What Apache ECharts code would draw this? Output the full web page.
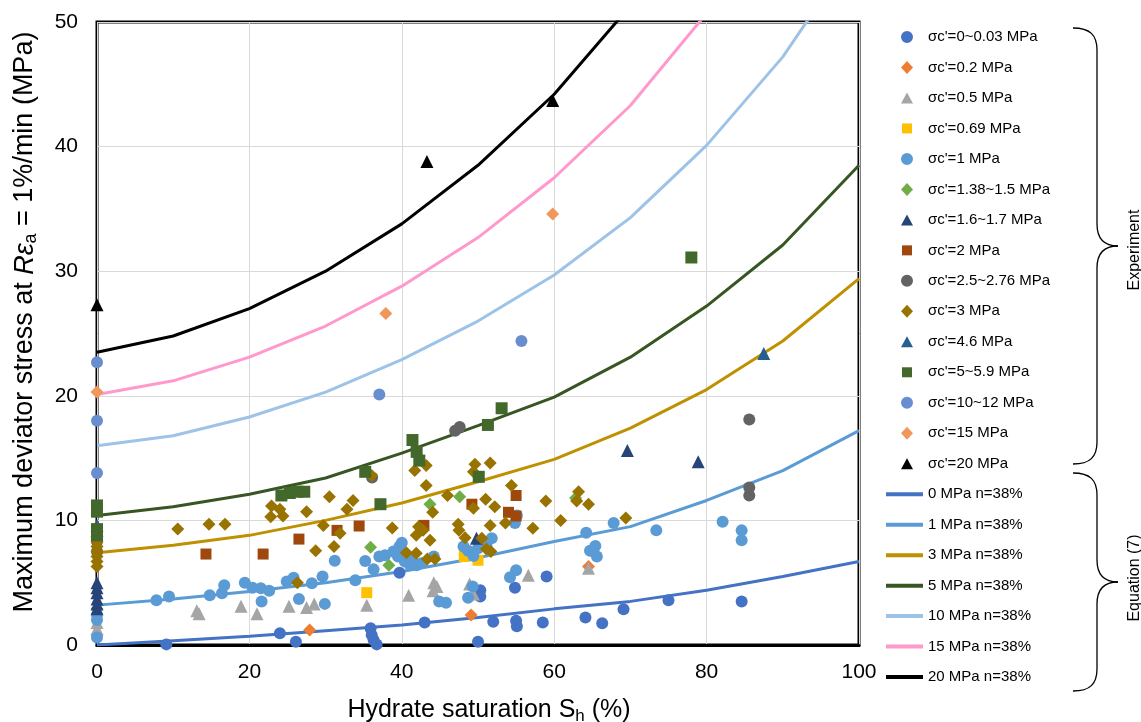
<!DOCTYPE html>
<html>
<head>
<meta charset="utf-8">
<script src="https://cdn.jsdelivr.net/npm/echarts@6/dist/echarts.min.js"></script>
<style>
  html, body { margin: 0; padding: 0; background: #fff; }
  #chart { width: 1141px; height: 722px; }
</style>
</head>
<body>
<div id="chart"></div>
<script>
const FONT = "'Liberation Sans', Arial, sans-serif";

// ---- Axis ticks ----
const xTicks = { min: 0, max: 100, interval: 20 };
const yTicks = { min: 0, max: 50, interval: 10 };

// ---- Equation (7) curves: hydrate saturation (%) vs. max deviator stress (MPa) ----
const curveSh = [0, 10, 20, 30, 40, 50, 60, 70, 80, 90, 100];
const eq0MPa  = [0, 0.35, 0.7, 1.15, 1.6, 2.2, 2.9, 3.5, 4.4, 5.5, 6.7];
const eq1MPa  = [3.2, 3.7, 4.3, 5.0, 5.9, 7.0, 8.3, 9.5, 11.6, 14.0, 17.2];
const eq3MPa  = [7.4, 8.0, 8.8, 10.0, 11.4, 13.1, 14.9, 17.4, 20.5, 24.4, 29.4];
const eq5MPa  = [10.4, 11.1, 12.1, 13.4, 15.4, 17.6, 19.9, 23.1, 27.2, 32.1, 38.5];
const eq10MPa = [16.0, 16.8, 18.3, 20.3, 22.9, 26.0, 29.7, 34.3, 40.1, 47.2, 56.2];
const eq15MPa = [20.1, 21.2, 23.1, 25.6, 28.8, 32.7, 37.5, 43.3, 50.7];
const eq20MPa = [23.5, 24.8, 27.0, 30.0, 33.8, 38.5, 44.2, 51.3];

// ---- Experimental data: [Sh (%), q_max (MPa)] ----
const exp0to003 = [[9.1,0.05],[24.0,0.94],[26.1,0.27],[35.9,1.34],[36.05,0.8],[36.3,0.4],[36.7,0.05],
  [39.7,5.8],[43.0,1.8],[50.0,0.27],[50.3,4.4],[50.3,3.9],[52.0,1.87],[55.0,1.95],[55.1,1.5],
  [54.85,4.6],[58.5,1.8],[59.0,5.5],[64.1,2.2],[66.3,1.75],[69.1,2.86],[75.0,3.6],[84.6,3.5]];
const exp02 = [[0,0.8],[27.9,1.2],[49.1,2.4],[64.5,6.3]];
const exp05 = [[0,1.3],[0,1.8],[13.1,2.75],[13.4,2.5],[18.9,3.1],[21.0,2.5],[25.2,3.1],[27.5,3.0],
  [28.5,3.3],[35.4,3.2],[40.9,4.0],[44.2,5.0],[44.6,4.7],[44.1,4.36],[48.9,4.9],[49.4,4.1],
  [56.6,5.6],[64.5,6.15]];
const exp069 = [[35.4,4.2],[48.2,7.1],[50.0,6.8]];
const exp1 = [[0,0.6],[0,2.0],[0,2.4],[7.8,3.6],[9.45,3.9],[14.8,4.0],[16.4,4.15],[16.7,4.8],[19.4,5.0],
  [20.4,4.6],[21.5,4.55],[22.6,4.36],[21.6,3.5],[24.9,5.1],[25.8,5.4],[28.2,4.95],[29.6,5.5],
  [31.2,6.77],[26.5,3.7],[29.9,3.3],[33.9,5.2],[35.2,6.74],[36.3,6.07],[37.05,7.1],[37.8,7.2],
  [38.9,7.5],[39.7,7.9],[40.0,8.2],[39.5,7.1],[40.4,6.7],[41.1,6.4],[41.95,6.4],[41.3,6.96],
  [42.6,6.56],[44.2,7.1],[48.1,7.9],[48.7,7.57],[49.4,7.14],[50.0,7.76],[51.1,8.0],[51.8,8.56],
  [55.1,10.4],[54.85,9.8],[64.2,9.0],[64.7,7.57],[65.4,7.95],[65.6,7.1],[55.0,6.0],[54.2,5.43],
  [49.3,4.7],[48.7,3.8],[44.9,3.5],[45.8,3.4],[67.8,9.8],[73.4,9.2],[82.1,9.9],[84.6,9.2],[84.6,8.4]];
const exp138to15 = [[0,2.9],[35.9,7.84],[38.3,6.4],[43.7,11.3],[47.6,11.9],[62.8,11.8]];
const exp16to17 = [[0,2.9],[0,3.3],[0,3.7],[0,4.2],[0,4.6],[0,5.0],[49.8,8.56],[69.6,15.6],[78.9,14.7]];
const exp2 = [[14.3,7.3],[21.8,7.3],[26.5,8.5],[31.5,9.2],[34.4,9.55],[42.9,9.6],[49.2,11.3],
  [55.0,12.0],[54.0,10.65],[55.0,10.35]];
const exp25to276 = [[0,7.5],[0,8.3],[36.1,13.45],[47.0,17.2],[47.6,17.5],[85.6,18.1],[85.6,12.65],[85.6,12.0]];
const exp3 = [[0,6.3],[0,6.7],[0,7.1],[0,7.5],[0,7.9],[0,8.3],[0,8.7],
  [10.6,9.3],[14.7,9.7],[16.8,9.7],[22.9,11.15],[24.0,10.9],[22.8,10.3],[24.4,10.35],[27.5,10.7],
  [30.5,11.9],[29.7,9.6],[31.9,8.96],[28.7,7.57],[31.1,7.9],[26.3,5.0],
  [36.05,13.6],[41.7,14.0],[43.2,14.4],[43.2,12.8],[49.6,14.5],[49.4,13.9],[51.6,14.6],[54.4,12.8],
  [58.9,11.56],[63.2,12.3],[62.95,11.56],[64.5,11.3],[33.6,11.6],[32.8,10.9],[46.0,12.0],[51.0,11.7],
  [52.2,11.1],[49.4,10.97],[44.05,10.65],[38.75,9.4],[47.4,9.7],[47.5,9.2],[51.6,9.6],[53.6,9.8],
  [57.2,9.36],[60.85,10.0],[42.2,9.5],[41.9,8.8],[42.8,9.2],[43.7,8.4],[48.3,8.6],[50.5,8.56],
  [40.6,7.4],[41.9,7.36],[43.35,6.9],[44.35,6.9],[51.1,7.7],[51.7,7.5],[69.4,10.2]];
const exp46 = [[0,9.6],[87.5,23.4]];
const exp5to59 = [[0,11.2],[0,10.7],[0,9.3],[0,8.8],[24.2,12.0],[25.3,12.2],[26.3,12.3],[27.2,12.3],
  [35.2,13.9],[37.2,11.3],[41.4,16.45],[41.95,15.5],[42.3,14.8],[50.1,13.5],[51.3,17.66],[53.1,19.0],[78.0,31.1]];
const exp10to12 = [[0,22.7],[0,18.0],[0,13.8],[37.05,20.1],[55.7,24.4]];
const exp15 = [[0,20.3],[37.9,26.6],[59.8,34.6]];
const exp20 = [[0,27.3],[43.3,38.8],[59.8,43.7]];

// Legend marker outlines drawn inside a 37x14 cell (the leading moves fix the cell size)
const CELL = 'path://M0,0M37,14';
const legendIcons = {
  circle: CELL + 'M21,1A6,6,0,1,1,20.99,1Z',
  diamond: CELL + 'M21,0.5L27,7L21,13.5L15,7Z',
  triangle: CELL + 'M21,1.5L27,12.5L15,12.5Z',
  rect: CELL + 'M16,2L26,2L26,12L16,12Z'
};

// ---- Series appearance ----
const expGroups = [
  { name: "σc'=0~0.03 MPa",    data: exp0to003,  symbol: 'circle',   size: 12, color: '#4472C4' },
  { name: "σc'=0.2 MPa",       data: exp02,      symbol: 'diamond',  size: 13, color: '#ED7D31' },
  { name: "σc'=0.5 MPa",       data: exp05,      symbol: 'triangle', size: 13, color: '#A5A5A5' },
  { name: "σc'=0.69 MPa",      data: exp069,     symbol: 'rect',     size: 11, color: '#FFC000' },
  { name: "σc'=1 MPa",         data: exp1,       symbol: 'circle',   size: 12, color: '#5B9BD5' },
  { name: "σc'=1.38~1.5 MPa",  data: exp138to15, symbol: 'diamond',  size: 13, color: '#70AD47' },
  { name: "σc'=1.6~1.7 MPa",   data: exp16to17,  symbol: 'triangle', size: 13, color: '#264478' },
  { name: "σc'=2 MPa",         data: exp2,       symbol: 'rect',     size: 11, color: '#9E480E' },
  { name: "σc'=2.5~2.76 MPa",  data: exp25to276, symbol: 'circle',   size: 12, color: '#636363' },
  { name: "σc'=3 MPa",         data: exp3,       symbol: 'diamond',  size: 13, color: '#997300' },
  { name: "σc'=4.6 MPa",       data: exp46,      symbol: 'triangle', size: 13, color: '#255E91' },
  { name: "σc'=5~5.9 MPa",     data: exp5to59,   symbol: 'rect',     size: 12, color: '#43682B' },
  { name: "σc'=10~12 MPa",     data: exp10to12,  symbol: 'circle',   size: 12, color: '#698ED0' },
  { name: "σc'=15 MPa",        data: exp15,      symbol: 'diamond',  size: 13, color: '#F1975A' },
  { name: "σc'=20 MPa",        data: exp20,      symbol: 'triangle', size: 13, color: '#000000' }
];

const eqGroups = [
  { name: '0 MPa n=38%',  values: eq0MPa,  color: '#4472C4' },
  { name: '1 MPa n=38%',  values: eq1MPa,  color: '#5B9BD5' },
  { name: '3 MPa n=38%',  values: eq3MPa,  color: '#BF9000' },
  { name: '5 MPa n=38%',  values: eq5MPa,  color: '#375623' },
  { name: '10 MPa n=38%', values: eq10MPa, color: '#9DC3E6' },
  { name: '15 MPa n=38%', values: eq15MPa, color: '#FF99CC' },
  { name: '20 MPa n=38%', values: eq20MPa, color: '#000000' }
];

const series = [];
eqGroups.forEach(g => {
  series.push({
    type: 'line',
    name: g.name,
    data: g.values.map((v, i) => [curveSh[i], v]),
    symbol: 'none',
    smooth: false,
    clip: true,
    z: 2,
    lineStyle: { color: g.color, width: 3 },
    itemStyle: { color: g.color },
    emphasis: { disabled: true }
  });
});
expGroups.forEach(g => {
  series.push({
    type: 'scatter',
    name: g.name,
    data: g.data,
    symbol: g.symbol,
    symbolSize: g.size,
    clip: false,
    z: 3,
    itemStyle: { color: g.color, opacity: 1 },
    emphasis: { disabled: true }
  });
});

// legend entries: markers for measurements, plain strokes for the equation curves
const legendData = expGroups.map(g => ({ name: g.name, icon: legendIcons[g.symbol] }))
  .concat(eqGroups.map(g => ({
    name: g.name,
    itemStyle: { opacity: 0 },
    lineStyle: { width: 4, color: g.color }
  })));

// Curly brace built from two end bends, a centre point and straight runs
function brace(top, bottom, xEnd, xRun, xTip) {
  const mid = (top + bottom) / 2;
  const st = { fill: 'none', stroke: '#000', lineWidth: 1.3 };
  const r = 22;
  return [
    { type: 'bezierCurve', shape: { x1: xEnd, y1: top, cpx1: xEnd + 17, cpy1: top, cpx2: xRun, cpy2: top + 7, x2: xRun, y2: top + r }, style: st },
    { type: 'line', shape: { x1: xRun, y1: top + r, x2: xRun, y2: mid - r }, style: st },
    { type: 'bezierCurve', shape: { x1: xRun, y1: mid - r, cpx1: xRun, cpy1: mid - 7, cpx2: xRun + 7, cpy2: mid, x2: xTip, y2: mid }, style: st },
    { type: 'bezierCurve', shape: { x1: xTip, y1: mid, cpx1: xRun + 7, cpy1: mid, cpx2: xRun, cpy2: mid + 7, x2: xRun, y2: mid + r }, style: st },
    { type: 'line', shape: { x1: xRun, y1: mid + r, x2: xRun, y2: bottom - r }, style: st },
    { type: 'bezierCurve', shape: { x1: xRun, y1: bottom - r, cpx1: xRun, cpy1: bottom - 7, cpx2: xEnd + 17, cpy2: bottom, x2: xEnd, y2: bottom }, style: st }
  ];
}

const graphics = []
  .concat(brace(28, 464, 1073, 1097, 1118))
  .concat(brace(473, 691, 1073, 1097, 1118))
  .concat([
    { type: 'text', x: 1135, y: 250, rotation: Math.PI / 2,
      style: { text: 'Experiment', font: '16px ' + FONT, fill: '#000', align: 'center', verticalAlign: 'middle' } },
    { type: 'text', x: 1135, y: 578, rotation: Math.PI / 2,
      style: { text: 'Equation (7)', font: '16px ' + FONT, fill: '#000', align: 'center', verticalAlign: 'middle' } },
    { type: 'text', x: 489, y: 710,
      style: {
        text: '{n|Hydrate saturation S}{s|h}{n| (%)}',
        align: 'center', verticalAlign: 'middle', fill: '#000',
        rich: {
          n: { fontSize: 25, fontFamily: FONT, lineHeight: 29, fill: '#000' },
          s: { fontSize: 17, fontFamily: FONT, lineHeight: 17, verticalAlign: 'bottom', fill: '#000' }
        }
      } },
    { type: 'text', x: 25, y: 322, rotation: Math.PI / 2,
      style: {
        text: '{n|Maximum deviator stress at }{i|Rε}{s|a}{n| = 1%/min (MPa)}',
        align: 'center', verticalAlign: 'middle', fill: '#000',
        rich: {
          n: { fontSize: 27, fontFamily: FONT, lineHeight: 31, fill: '#000' },
          i: { fontSize: 27, fontFamily: FONT, fontStyle: 'italic', lineHeight: 31, fill: '#000' },
          s: { fontSize: 18, fontFamily: FONT, lineHeight: 18, verticalAlign: 'bottom', fill: '#000' }
        }
      } }
  ]);

const chart = echarts.init(document.getElementById('chart'), null, { renderer: 'canvas' });
chart.setOption({
  backgroundColor: '#ffffff',
  animation: false,
  textStyle: { fontFamily: FONT },
  grid: {
    left: 97, right: 282, top: 22, bottom: 77,
    show: true, borderColor: '#000', borderWidth: 3,
    containLabel: false, outerBoundsMode: 'none'
  },
  xAxis: {
    type: 'value',
    min: xTicks.min, max: xTicks.max, interval: xTicks.interval,
    axisLine: { show: true, onZero: false, lineStyle: { color: '#000', width: 3 } },
    axisTick: { show: false },
    axisLabel: { color: '#000', fontSize: 21, fontFamily: FONT, margin: 17 },
    splitLine: { show: true, lineStyle: { color: '#D9D9D9', width: 1 } }
  },
  yAxis: {
    type: 'value',
    min: yTicks.min, max: yTicks.max, interval: yTicks.interval,
    axisLine: { show: false },
    axisTick: { show: false },
    axisLabel: { color: '#000', fontSize: 21, fontFamily: FONT, margin: 19 },
    splitLine: { show: true, lineStyle: { color: '#D9D9D9', width: 1 } }
  },
  legend: {
    orient: 'vertical',
    left: 884, top: 29.5,
    padding: 0,
    itemWidth: 37, itemHeight: 14,
    itemGap: 15.48,
    data: legendData,
    selectedMode: false,
    textStyle: { color: '#000', fontSize: 15, lineHeight: 15, fontFamily: FONT }
  },
  graphic: graphics,
  series: series
});
</script>
</body>
</html>
